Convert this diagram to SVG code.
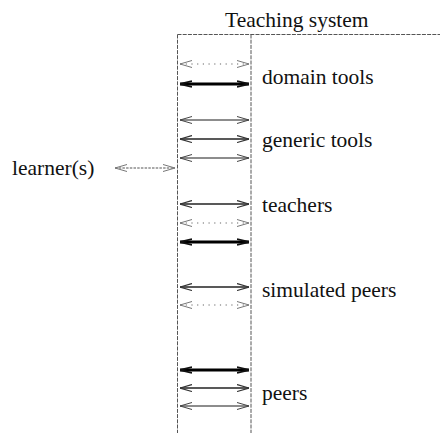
<svg xmlns="http://www.w3.org/2000/svg" width="440" height="433" viewBox="0 0 440 433">
<style>
text{font-family:"Liberation Serif","Times New Roman",serif;font-size:21.5px;fill:#111}
.frame{stroke:#555;stroke-width:1;fill:none;stroke-dasharray:4 1.2}
.a{fill:none}
.thin{stroke:#1a1a1a;stroke-width:1;marker-start:url(#hThin);marker-end:url(#hThin)}
.med{stroke:#222;stroke-width:1.6;marker-start:url(#hMed);marker-end:url(#hMed)}
.thick{stroke:#000;stroke-width:3;marker-start:url(#hThick);marker-end:url(#hThick)}
.dot{stroke:#666;stroke-width:1.2;stroke-dasharray:1.2 4.5;marker-start:url(#hDot);marker-end:url(#hDot)}
.learn{stroke:#555;stroke-width:1.1;stroke-dasharray:2.5 1.2;marker-start:url(#hDot);marker-end:url(#hDot)}
</style>
<defs>
<marker id="hThin" viewBox="0 0 12 8" refX="12" refY="4" markerWidth="12" markerHeight="8" markerUnits="userSpaceOnUse" orient="auto-start-reverse"><path d="M0,0.5 L12,4 L0,7.5" fill="none" stroke="#444" stroke-width="1"/></marker>
<marker id="hMed" viewBox="0 0 12 8" refX="12" refY="4" markerWidth="12" markerHeight="8" markerUnits="userSpaceOnUse" orient="auto-start-reverse"><path d="M0,0.5 L12,4 L0,7.5" fill="none" stroke="#333" stroke-width="1.2"/></marker>
<marker id="hThick" viewBox="0 0 12 8" refX="12" refY="4" markerWidth="12" markerHeight="8" markerUnits="userSpaceOnUse" orient="auto-start-reverse"><path d="M0,1 L12,4 L0,7" fill="none" stroke="#111" stroke-width="1.8"/></marker>
<marker id="hDot" viewBox="0 0 12 8" refX="12" refY="4" markerWidth="12" markerHeight="8" markerUnits="userSpaceOnUse" orient="auto-start-reverse"><path d="M0,0.5 L12,4 L0,7.5" fill="none" stroke="#777" stroke-width="1"/></marker>
</defs>
<g id="teaching-system">
<text x="225" y="27">Teaching system</text>
<line class="frame" x1="177.5" y1="34.5" x2="440" y2="34.5"/>
<line class="frame" x1="177.5" y1="34.5" x2="177.5" y2="433"/>
<line class="frame" x1="251" y1="34.5" x2="251" y2="433"/>
</g>
<g id="learner"><text x="12" y="175">learner(s)</text></g>
<g id="domain-tools"><text x="262" y="84">domain tools</text></g>
<g id="generic-tools"><text x="262" y="147">generic tools</text></g>
<g id="teachers"><text x="262" y="212">teachers</text></g>
<g id="simulated-peers"><text x="262" y="297">simulated peers</text></g>
<g id="peers"><text x="262" y="400">peers</text></g>
<g id="connectors" class="a">
<line class="learn" x1="115" y1="168" x2="175" y2="168"/>
<line class="dot" x1="180" y1="64" x2="249" y2="64"/>
<line class="thick" x1="180" y1="84" x2="249" y2="84"/>
<line class="thin" x1="180" y1="120" x2="249" y2="120"/>
<line class="med" x1="180" y1="139" x2="249" y2="139"/>
<line class="thin" x1="180" y1="158" x2="249" y2="158"/>
<line class="med" x1="180" y1="204" x2="249" y2="204"/>
<line class="dot" x1="180" y1="223" x2="249" y2="223"/>
<line class="thick" x1="180" y1="242" x2="249" y2="242"/>
<line class="med" x1="180" y1="287" x2="249" y2="287"/>
<line class="dot" x1="180" y1="305" x2="249" y2="305"/>
<line class="thick" x1="180" y1="370" x2="249" y2="370"/>
<line class="med" x1="180" y1="388" x2="249" y2="388"/>
<line class="thin" x1="180" y1="406" x2="249" y2="406"/>
</g>
</svg>
